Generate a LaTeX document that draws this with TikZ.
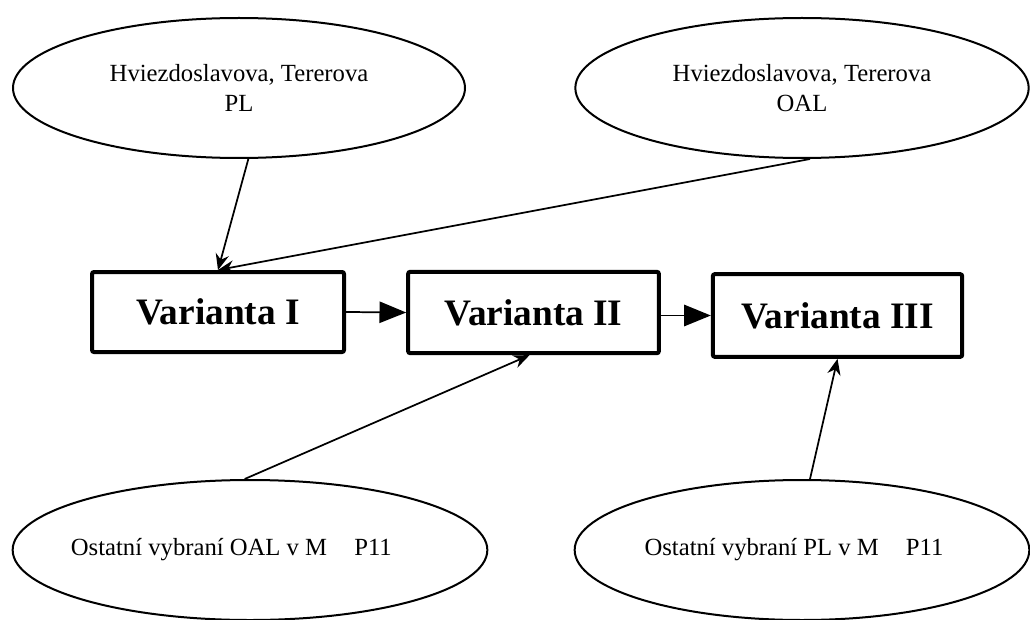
\documentclass[tikz,border=0pt]{standalone}
\usepackage{fontspec}
\setmainfont{Liberation Serif}
\usetikzlibrary{shapes.geometric,arrows.meta,calc}

% one drawing unit is 0.75pt; node sizes below are given in pt
\tikzset{
  source/.style={draw, ellipse, line width=1.5pt, inner sep=0pt,
    font=\fontsize{18.5}{23}\selectfont, align=center},
  variant/.style={draw, line width=3pt, rounded corners=1.5pt, inner sep=0pt,
    font=\fontsize{28}{32}\selectfont\bfseries},
  feed/.style={line width=1.3pt, -{Stealth[length=12pt,width=10pt,inset=4pt]}},
  flow/.style={line width=1.3pt, -{Triangle[length=20pt,width=16pt]}}
}

\begin{document}
\begin{tikzpicture}[x=0.75pt,y=-0.75pt]
  \useasboundingbox (0,0) rectangle (1030,620);

  % source groups (long single-line labels are boxed to zero width so the
  % ellipse keeps its given size)
  \node[source, minimum width=339pt, minimum height=105pt] (hpl) at (239,88)
    {Hviezdoslavova, Tererova\\PL};
  \node[source, minimum width=340pt, minimum height=105pt] (hoal) at (802,88)
    {Hviezdoslavova, Tererova\\OAL};
  \node[source, minimum width=356pt, minimum height=105pt] (ooal) at (250,550)
    {\makebox[0pt]{Ostatní vybraní OAL v M\hspace{1.1em}P11\hspace{28pt}}};
  \node[source, minimum width=341pt, minimum height=105pt] (opl) at (802,550)
    {\makebox[0pt]{Ostatní vybraní PL v M\hspace{1.1em}P11\hspace{12pt}}};

  % variants
  \node[variant, minimum width=189pt, minimum height=60pt] (v1) at (218,312) {Varianta I};
  \node[variant, minimum width=188pt, minimum height=61pt] (v2) at (533.5,312.5) {Varianta II};
  \node[variant, minimum width=187pt, minimum height=62pt] (v3) at (837.5,315.5) {Varianta III};

  % sequence between variants
  \draw[flow] (v1.east) -- (v2.west);
  \draw[flow] (v2.east |- v3.west) -- (v3.west);

  % inputs from the source groups
  \draw[feed] ([xshift=7]hpl.south) -- (v1.north);
  \draw[feed] ([xshift=6]hoal.south) -- (v1.north);
  \draw[feed] ([xshift=-4]ooal.north) -- ([xshift=-3]v2.south);
  \draw[feed] ([xshift=6]opl.north) -- (v3.south);
\end{tikzpicture}
\end{document}
